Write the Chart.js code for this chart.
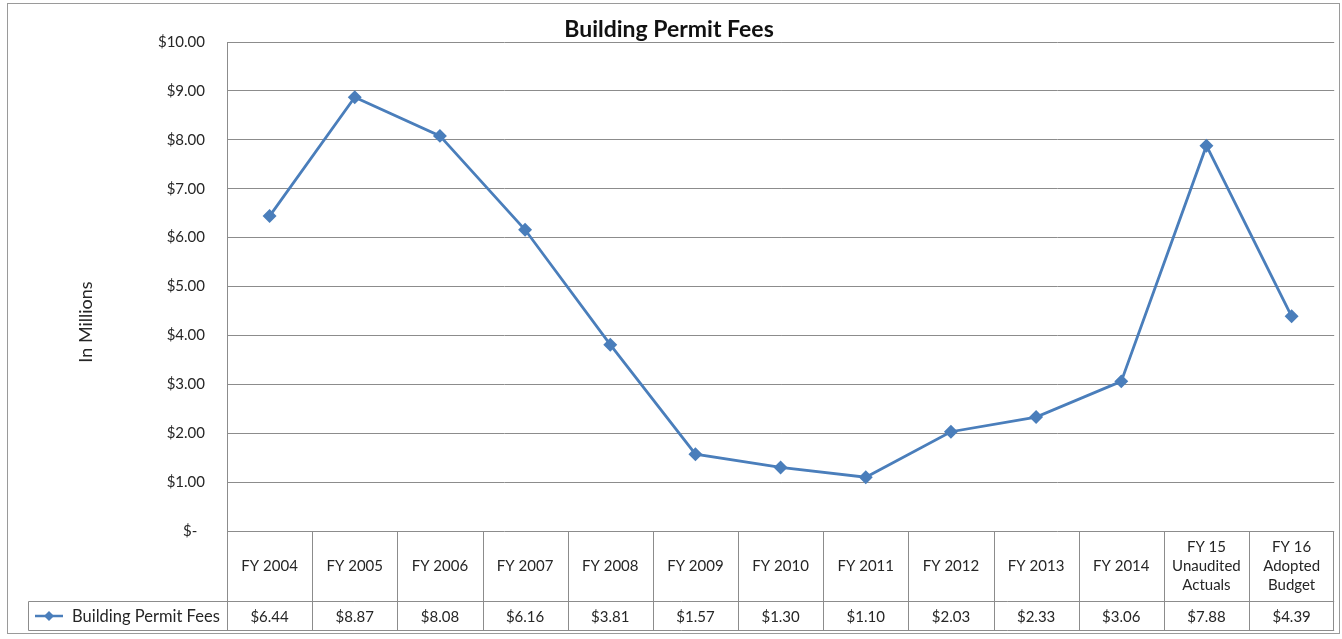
<!DOCTYPE html>
<html>
<head>
<meta charset="utf-8">
<script src="https://cdn.jsdelivr.net/npm/chart.js@4"></script>
<style>
  body { margin: 0; background: #fff; }
</style>
</head>
<body>
<canvas id="feesChart" width="1342" height="639"></canvas>
<script>
// data (in millions)
var fiscalYears = [
    'FY 2004', 'FY 2005', 'FY 2006', 'FY 2007', 'FY 2008', 'FY 2009', 'FY 2010',
    'FY 2011', 'FY 2012', 'FY 2013', 'FY 2014',
    ['FY 15', 'Unaudited', 'Actuals'],
    ['FY 16', 'Adopted', 'Budget']
];
var permitFees = [6.44, 8.87, 8.08, 6.16, 3.81, 1.57, 1.30, 1.10, 2.03, 2.33, 3.06, 7.88, 4.39];
var yTicks = [0, 1, 2, 3, 4, 5, 6, 7, 8, 9, 10];

var seriesName = 'Building Permit Fees';
var lineColor = '#4a7ebb';
var gridColor = '#8c8c8c';
var textColor = '#262626';

Chart.defaults.font.family = 'Lato, "Open Sans", sans-serif';

function money(v) {
    if (v === 0) return '$-  ';
    return '$' + v.toFixed(2);
}

// frame round the whole chart
var framePlugin = {
    id: 'frame',
    beforeDraw: function (chart) {
        var ctx = chart.ctx;
        ctx.save();
        ctx.strokeStyle = '#9a9a9a';
        ctx.lineWidth = 1;
        ctx.strokeRect(7.5, 3.5, 1332, 630);
        ctx.restore();
    }
};

// data table + axis title, drawn under the plot area
var tablePlugin = {
    id: 'dataTable',
    afterDraw: function (chart) {
        var ctx = chart.ctx;
        var a = chart.chartArea;
        var x = chart.scales.x;
        var colW = (a.right - a.left) / fiscalYears.length;
        var rowTop = Math.round(a.bottom) + 0.5;
        var rowMid = rowTop + 70;
        var rowEnd = rowMid + 29;
        var legendLeft = 28.5;

        ctx.save();
        ctx.strokeStyle = gridColor;
        ctx.lineWidth = 1;
        ctx.beginPath();
        ctx.moveTo(legendLeft, rowMid); ctx.lineTo(a.right, rowMid);
        ctx.moveTo(legendLeft, rowEnd); ctx.lineTo(a.right, rowEnd);
        ctx.moveTo(legendLeft, rowMid); ctx.lineTo(legendLeft, rowEnd);
        for (var i = 0; i <= fiscalYears.length; i++) {
            var cx = Math.round(a.left + i * colW) + 0.5;
            if (i === fiscalYears.length) cx = Math.round(a.right) - 0.5;
            ctx.moveTo(cx, rowTop); ctx.lineTo(cx, rowEnd);
        }
        ctx.stroke();

        ctx.fillStyle = textColor;
        ctx.font = '15px Lato';
        ctx.textAlign = 'center';
        ctx.textBaseline = 'middle';
        fiscalYears.forEach(function (lab, i) {
            var px = x.getPixelForValue(i);
            var lines = Array.isArray(lab) ? lab : [lab];
            var mid = (rowTop + rowMid) / 2;
            lines.forEach(function (ln, j) {
                ctx.fillText(ln, px, mid + (j - (lines.length - 1) / 2) * 19);
            });
            ctx.fillText(money(permitFees[i]), px, (rowMid + rowEnd) / 2 + 1);
        });

        // legend key in the first cell
        var ly = (rowMid + rowEnd) / 2;
        ctx.strokeStyle = lineColor;
        ctx.lineWidth = 2.5;
        ctx.beginPath();
        ctx.moveTo(35, ly); ctx.lineTo(63, ly);
        ctx.stroke();
        ctx.fillStyle = lineColor;
        ctx.beginPath();
        ctx.moveTo(49, ly - 5); ctx.lineTo(54, ly); ctx.lineTo(49, ly + 5); ctx.lineTo(44, ly);
        ctx.closePath();
        ctx.fill();
        ctx.fillStyle = textColor;
        ctx.textAlign = 'left';
        ctx.font = '16.5px Lato';
        ctx.fillText(seriesName, 72, ly + 1);

        // y axis title
        ctx.translate(86, 322);
        ctx.rotate(-Math.PI / 2);
        ctx.textAlign = 'center';
        ctx.font = '18px Lato';
        ctx.fillText('In Millions', 0, 0);
        ctx.restore();
    }
};

var ctx = document.getElementById('feesChart').getContext('2d');
var feesChart = new Chart(ctx, {
    type: 'line',
    data: {
        labels: fiscalYears,
        datasets: [{
            label: seriesName,
            data: permitFees,
            borderColor: lineColor,
            backgroundColor: lineColor,
            borderWidth: 2.8,
            tension: 0,
            pointStyle: 'rectRot',
            pointRadius: 5,
            pointHoverRadius: 5
        }]
    },
    options: {
        responsive: false,
        animation: false,
        layout: {
            padding: { left: 0, right: 4, top: 0, bottom: 108 }
        },
        plugins: {
            legend: { display: false },
            tooltip: { enabled: false },
            title: {
                display: true,
                text: 'Building Permit Fees',
                color: '#111',
                font: { size: 23, weight: 'bold', lineHeight: 1 },
                padding: { top: 18, bottom: 1 }
            }
        },
        scales: {
            x: {
                display: false,
                offset: true
            },
            y: {
                min: 0,
                max: 10,
                afterBuildTicks: function (scale) {
                    scale.ticks = yTicks.map(function (v) { return { value: v }; });
                },
                afterFit: function (scale) {
                    scale.width = 227;
                },
                grid: {
                    color: gridColor,
                    drawTicks: false
                },
                border: { color: gridColor },
                ticks: {
                    padding: 22,
                    color: textColor,
                    font: { size: 15 },
                    callback: function (v) { return money(v); }
                }
            }
        }
    },
    plugins: [framePlugin, tablePlugin]
});
</script>
</body>
</html>
